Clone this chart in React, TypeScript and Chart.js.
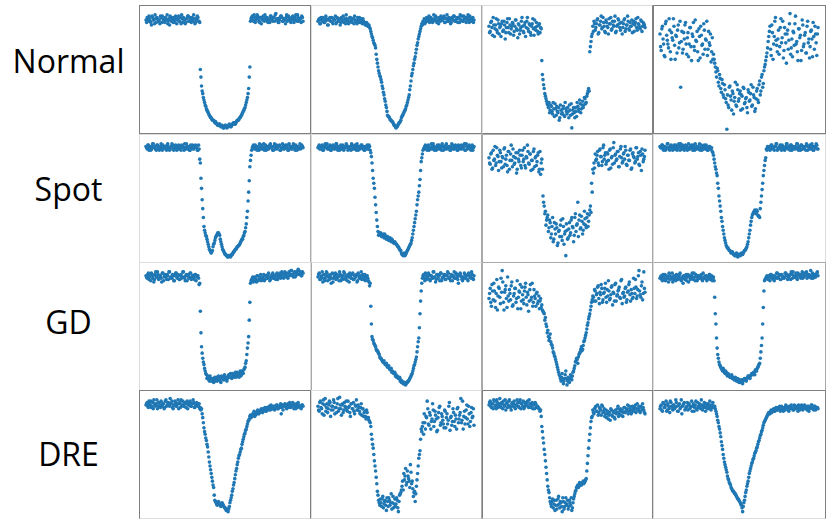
import React, { useEffect, useRef } from "react";
import { Chart, registerables } from "chart.js";

Chart.register(...registerables);

// Row labels (transit classes)
const rowLabels = ["Normal", "Spot", "GD", "DRE"];

// Relative flux (0 = panel bottom, 100 = panel top).
// Two interleaved visits per light curve: "...A" at samples 0,1,2..., "...Ab" at samples 0.5,1.5,...
const normalA = [89,91,88,90,87,92,89,86,90,91,88,89,92,87,90,88,91,89,86,90,92,88,89,91,87,90,89,92,88,86,90,91,89,87,90,92,88,89,91,88,90,87,89,91,88,
  50,37,31,26,22,19,17,15,13,12,10,10,8,8,7,6,7,5,6,4,5,6,4,5,7,5,6,7,8,7,9,10,11,12,14,16,18,20,24,28,35,52,
  90,92,88,91,89,93,90,87,91,89,92,88,90,91,87,89,92,90,88,91,93,89,90,87,91,92,88,90,89,91,88,92,90,87,91,89,90,93,88,91,89,90,92,88];
const normalAb = [87,90,92,88,85,91,89,93,87,90,88,86,91,92,89,87,90,93,88,85,90,91,87,89,92,86,90,88,91,93,87,89,86,90,92,88,91,87,89,93,86,90,92,88,87,
  44,33,28,24,21,18,16,14,12,11,10,9,9,7,6,7,6,5,5,4,6,5,5,6,6,5,7,8,7,8,10,10,12,13,15,17,19,22,26,31,44,
  88,91,89,93,87,90,92,88,91,86,90,89,93,91,88,90,87,92,89,91,88,94,90,87,89,92,91,88,90,86,93,89,91,88,90,92,87,91,89,93,88,90,87,91];
const normalB = [88,90,86,89,91,87,88,90,85,89,91,88,87,90,89,86,91,88,90,87,89,92,88,86,90,89,87,91,88,90,86,89,88,91,87,89,90,86,88,87,85,86,84,83,
  80,76,73,70,67,58,52,47,44,40,35,30,25,20,14,13,11,10,9,7,6,4,5,7,8,10,13,15,17,19,22,26,30,37,45,50,55,60,66,71,76,80,84,
  85,87,86,89,88,90,87,91,89,88,90,92,87,89,91,88,90,89,92,87,90,88,91,89,87,90,92,88,89,91,90,87,89,92,88,90,91,89,93,87,90,88,91,89];
const normalBb = [89,86,91,88,90,87,92,89,85,90,88,91,86,89,92,87,90,88,85,91,89,87,90,93,88,86,91,89,87,90,92,88,86,89,91,87,88,90,86,85,87,84,85,82,
  78,75,71,69,62,55,49,45,42,37,32,27,22,17,13,12,10,9,8,6,5,5,6,8,9,12,14,16,18,21,24,28,34,41,47,53,58,63,69,74,78,82,
  86,88,90,87,91,89,92,88,90,87,93,89,91,88,86,90,92,89,91,87,90,93,88,90,86,91,89,92,88,90,87,91,93,89,88,92,90,87,91,89,92,88,90,87];
const normalC = [84,80,88,77,85,82,90,79,86,83,76,88,81,85,79,87,83,90,78,84,86,80,89,82,75,85,81,88,84,79,87,83,91,80,85,77,86,82,89,81,84,78,86,83,
  57,42,35,29,25,22,24,18,21,15,19,23,14,17,20,12,18,16,21,13,19,15,17,22,14,4,18,16,20,13,21,17,23,19,25,22,27,24,31,35,64,72,
  78,80,86,83,89,78,85,88,82,91,84,79,87,83,90,86,81,88,84,92,80,85,89,83,87,78,86,90,82,85,88,81,84,89,86,80,87,83,91,85,82,88,84,86,83];
const normalCb = [79,87,83,91,76,85,81,89,78,84,86,80,88,74,83,90,79,85,82,87,77,84,89,81,86,78,83,91,80,85,76,88,82,86,79,84,90,77,83,87,80,85,79,82,
  46,38,31,27,23,20,16,22,17,24,13,19,21,16,10,22,15,19,14,24,17,20,12,18,23,15,20,12,17,24,19,26,16,22,20,28,23,29,33,33,68,
  76,84,88,81,86,90,79,85,92,83,87,80,89,84,78,86,91,82,85,88,79,84,90,86,81,87,83,89,80,85,92,82,87,84,79,88,85,90,81,86,83,89,80,87,85];
const normalD = [78,65,84,70,60,88,73,67,81,58,75,90,69,77,63,85,71,36,80,66,74,87,62,79,70,83,57,76,68,89,72,64,82,59,77,70,86,66,73,61,80,69,56,75,
  62,55,48,51,40,46,35,42,30,38,27,3,22,36,29,18,31,25,40,21,34,27,33,30,19,35,24,28,16,32,26,38,22,30,17,27,35,24,41,33,46,39,52,57,63,
  72,80,66,85,58,76,91,69,74,62,83,71,88,65,78,55,81,73,94,67,60,79,86,70,64,82,75,57,89,68,77,63,84,71,59,80,74,87,66,78,61,83];
const normalDb = [68,82,74,61,86,77,70,90,64,79,73,84,58,76,81,67,88,72,63,79,85,70,75,60,83,68,78,87,65,73,80,57,76,84,69,62,81,74,88,66,71,78,64,58,
  58,52,44,49,37,43,32,39,28,34,24,30,20,37,26,33,15,28,22,38,25,31,18,29,36,23,27,20,34,25,31,21,36,28,19,33,26,38,30,44,36,49,54,60,
  67,76,84,61,79,70,88,73,64,81,68,90,75,59,83,71,78,66,86,62,74,80,69,92,72,57,82,77,65,85,70,79,63,88,74,68,81,60,76,84,71,78];

const spotA = [91,89,92,90,88,91,93,90,89,92,90,88,91,89,92,90,91,88,93,90,89,91,92,88,90,91,89,92,90,88,91,90,93,89,91,90,88,92,90,89,91,92,90,88,89,
  78,58,42,28,23,20,16,12,9,7,9,14,17,20,22,23,21,16,12,9,7,6,5,4,5,4,6,7,8,10,11,12,13,15,17,18,21,24,30,40,55,75,
  84,90,92,89,91,88,90,93,89,91,90,88,92,90,89,91,93,90,88,91,89,92,90,91,88,90,93,89,91,90,92,88,90,91,89,93,90,92,88,91,90,89,92,90];
const spotAb = [90,92,88,91,89,93,90,91,88,92,89,90,93,88,91,90,89,92,90,88,91,93,89,90,92,88,91,89,90,92,91,88,90,93,89,91,88,90,92,89,91,90,88,92,81,
  66,49,35,25,21,18,14,10,8,8,12,15,19,21,23,22,18,14,10,8,6,5,4,5,5,5,6,8,9,10,12,13,14,16,18,20,23,27,35,48,64,
  80,88,91,90,92,89,91,88,90,92,89,93,90,88,91,89,92,90,91,88,93,90,89,91,92,88,90,91,89,92,90,88,93,91,89,90,92,88,91,90,89,93,90,91];
const spotB = [90,92,89,91,88,90,93,91,89,90,92,88,91,90,89,93,90,91,88,92,90,89,91,90,92,88,90,91,93,89,90,92,88,91,90,89,92,90,91,88,90,92,89,91,86,
  78,66,58,45,33,24,22,23,20,22,19,21,18,20,17,19,16,17,15,16,14,13,12,10,9,6,5,7,6,8,10,12,14,17,22,28,34,40,49,55,65,79,
  85,89,91,90,88,92,90,89,91,93,88,90,91,89,92,90,88,91,90,89,93,90,91,88,90,92,89,91,90,88,92,90,91,89,90,93,88,91,90,92,89,90,88,91];
const spotBb = [91,89,90,92,88,91,90,93,89,91,88,90,92,89,91,93,88,90,91,89,92,88,90,93,91,89,90,88,92,91,89,90,93,88,91,90,92,89,88,91,90,89,92,88,83,
  72,62,51,39,28,21,23,21,21,20,22,19,19,18,18,17,18,16,15,15,14,12,11,9,7,6,6,5,7,9,11,13,15,19,25,31,37,45,52,60,72,
  82,88,90,92,89,91,88,90,93,89,91,90,88,92,90,89,91,93,88,90,92,89,90,91,88,93,90,89,92,91,88,90,89,92,90,91,88,93,89,90,91,88,92,90];
const spotC = [82,77,86,74,80,91,78,84,72,88,79,83,75,90,81,76,87,73,85,80,89,77,82,70,86,79,84,74,88,81,76,83,92,78,85,72,80,87,75,83,79,86,73,69,81,
  52,44,40,33,37,27,31,22,35,18,26,30,13,24,20,33,17,28,22,5,25,19,31,23,35,27,21,38,29,47,33,26,36,22,30,34,27,38,32,41,39,55,
  70,74,80,84,78,88,83,76,90,81,86,79,85,73,89,82,77,94,84,80,87,75,83,91,78,85,81,88,76,84,80,89,74,86,82,79,90,83,77,87,72,85,81,88];
const spotCb = [78,85,73,88,81,76,90,83,79,86,74,82,89,77,84,71,87,80,92,75,83,78,86,73,81,88,76,84,79,90,74,82,87,77,85,80,73,89,82,76,84,71,87,78,73,
  47,38,29,35,24,33,19,28,16,31,22,27,15,25,29,20,34,14,24,30,18,26,21,33,28,16,35,24,30,20,37,27,32,25,40,29,35,28,37,44,62,
  73,78,85,81,87,76,89,83,79,92,84,77,86,80,88,74,83,90,78,85,81,87,75,89,82,79,86,91,77,84,80,88,73,85,83,78,90,81,86,76,84,89,79,83];
const spotD = [91,90,92,88,91,89,93,90,88,92,90,91,89,92,88,90,91,93,89,90,88,92,91,90,89,91,92,88,90,93,89,91,90,88,92,90,89,91,92,88,90,91,89,87,84,
  78,73,68,58,48,40,32,25,19,15,12,11,9,8,8,7,6,5,7,4,6,5,7,6,8,9,11,14,19,25,32,37,39,41,38,40,36,35,47,57,68,76,
  82,88,90,91,89,92,90,88,91,93,89,90,92,88,91,90,89,93,90,91,88,92,90,89,91,90,93,88,90,92,89,91,90,88,92,91,89,90,93,88,91,90,92,89];
const spotDb = [90,92,89,91,88,90,93,89,91,90,88,92,90,89,91,93,88,90,92,89,91,90,88,93,89,91,90,92,88,90,91,89,93,90,88,91,92,89,90,88,91,89,90,86,81,
  75,70,62,52,44,35,28,22,17,13,11,10,9,7,8,6,5,6,5,5,6,6,6,7,9,10,12,16,22,29,35,38,40,39,41,37,36,42,52,62,72,
  80,89,91,90,88,92,90,89,91,93,88,90,91,89,92,90,88,91,93,89,90,92,88,91,90,89,93,90,91,88,92,89,90,91,93,88,90,92,89,91,88,90,93,89];

const gdA = [90,88,92,89,86,91,90,87,93,89,91,88,90,85,92,89,91,87,90,93,88,89,91,86,90,92,88,90,87,91,89,93,88,90,86,91,89,92,88,90,87,91,89,90,83,
  62,34,25,20,15,12,10,8,11,7,9,6,10,8,7,11,9,6,10,8,12,9,7,11,10,13,9,12,10,14,11,13,10,15,12,14,16,18,23,33,42,69,
  86,88,85,89,87,90,86,88,91,87,89,86,90,88,91,89,87,90,92,88,89,91,87,90,92,89,91,88,93,90,89,92,90,94,91,89,93,90,92,95,91,93,90,92];
const gdAb = [89,91,87,90,92,88,85,91,89,93,87,90,88,92,86,90,89,91,87,93,89,88,90,86,92,89,91,87,90,88,93,89,86,91,90,88,92,87,90,89,91,86,90,88,84,
  45,29,22,17,13,9,11,7,9,8,7,9,7,10,9,8,7,11,9,10,8,10,9,12,11,10,13,11,12,10,14,12,13,11,15,13,17,21,28,37,55,
  84,87,89,86,88,85,90,87,89,86,88,91,87,90,88,92,86,89,91,88,90,87,92,89,90,88,93,91,89,92,90,88,93,91,94,90,92,89,93,91,94,92,90,93];
const gdB = [89,92,87,90,85,91,88,93,86,90,89,84,92,88,90,87,91,89,93,86,88,90,92,87,89,91,85,90,88,92,87,89,91,86,90,88,93,89,87,91,88,90,86,82,
  66,42,39,36,34,31,30,28,25,24,22,23,20,21,18,19,16,17,15,13,14,12,11,9,10,8,7,5,6,4,6,7,8,10,12,15,19,22,26,34,41,60,78,
  88,91,86,90,89,92,87,90,88,93,89,85,91,88,90,92,86,89,91,87,90,93,88,89,91,86,90,88,92,89,84,91,90,87,89,92,88,90,86,91,89,93,88,90];
const gdBb = [91,87,89,93,88,86,90,92,89,87,91,88,85,90,92,88,89,86,91,90,87,93,88,90,86,89,92,88,91,87,90,89,85,92,88,90,87,91,89,86,90,88,85,84,
  52,40,37,35,32,31,29,26,25,23,22,21,20,19,18,17,16,14,14,13,11,10,10,9,7,6,6,5,5,5,6,7,9,11,13,17,20,24,30,38,49,70,
  84,90,88,92,87,89,91,86,90,88,93,89,87,91,90,86,92,88,89,91,87,90,92,88,86,90,89,93,88,91,87,90,92,89,86,88,91,90,87,92,89,88,91,87];
const gdC = [72,80,66,78,84,70,76,63,81,73,88,94,69,77,82,65,74,79,71,85,67,76,80,72,64,78,83,70,75,68,81,73,77,62,79,71,84,69,74,66,77,70,64,72,67,62,
  60,57,50,47,39,44,36,33,29,26,22,18,14,11,7,13,5,9,15,4,10,6,12,8,14,17,22,25,21,28,30,34,32,38,41,45,51,56,60,66,71,
  73,79,70,76,82,68,75,80,71,77,84,69,74,78,72,81,67,76,83,70,75,79,73,86,68,77,74,81,71,78,85,70,76,73,80,87,72,79,94,75,82,71,93,77];
const gdCb = [76,69,83,71,78,65,87,74,80,68,77,85,63,79,72,89,70,76,82,66,74,80,69,86,73,77,64,81,71,78,84,67,75,70,83,73,66,79,72,76,68,74,70,65,63,61,
  55,52,45,42,41,38,35,30,27,24,20,16,12,9,10,8,7,12,9,7,8,9,10,11,15,19,23,24,26,29,32,31,35,39,43,48,53,58,63,69,
  74,70,78,75,81,72,77,83,69,76,80,73,79,86,71,75,82,77,70,84,74,78,81,72,87,76,73,80,69,77,83,75,79,72,88,76,81,74,90,78,73,85,76,80];
const gdD = [88,90,86,89,91,87,89,85,90,88,92,87,89,86,90,88,91,87,89,84,90,88,86,91,89,87,90,88,92,86,89,87,90,88,91,86,89,88,90,87,89,91,88,86,89,
  73,52,33,25,20,18,16,17,14,15,12,13,11,10,12,9,8,10,7,9,6,8,7,5,8,9,7,10,11,9,12,13,14,12,15,17,19,21,30,41,65,
  86,88,90,87,89,91,88,90,86,89,92,88,90,87,91,89,88,92,90,87,89,91,93,88,90,89,92,87,90,91,88,93,89,90,92,88,91,89,94,90,88,91,89,92,90];
const gdDb = [89,87,91,88,86,90,88,92,87,89,85,90,88,91,87,89,92,86,88,90,87,91,89,85,90,88,92,87,89,91,86,90,88,89,87,92,88,90,86,89,91,87,90,88,86,
  60,41,28,22,19,17,15,16,13,14,11,12,10,11,9,10,8,9,8,7,7,6,8,7,9,8,9,11,10,11,13,12,14,16,15,18,20,25,35,52,
  78,87,89,88,90,86,91,89,87,90,88,92,89,91,87,90,88,89,92,91,88,90,87,91,93,89,90,88,92,90,89,91,88,92,90,93,89,91,90,88,92,90,89,91,93];

const dreA = [89,91,87,90,92,88,86,90,89,93,88,91,87,89,90,86,92,88,91,89,94,90,87,89,92,88,90,86,91,93,89,88,90,87,92,89,91,88,90,93,87,89,91,88,90,87,86,
  79,71,66,61,56,48,41,35,29,24,14,12,10,13,11,9,12,10,8,7,6,5,9,14,18,23,28,34,39,44,49,52,55,60,64,67,70,74,77,
  80,79,81,82,80,83,82,84,83,85,84,86,85,84,87,86,88,85,87,86,88,87,89,86,88,87,82,89,88,90,87,89,88,91,87,89,90,88,86,89,91,88,87,89,88];
const dreAb = [90,88,92,89,87,91,93,88,90,86,91,89,92,88,90,87,93,89,91,88,90,92,86,89,91,88,93,90,87,89,92,88,91,90,86,89,92,88,90,91,87,89,90,88,86,85,82,
  75,68,63,58,52,44,38,32,26,18,13,11,12,12,10,11,11,9,8,6,7,7,12,16,21,26,31,37,42,47,50,54,58,62,66,69,72,76,
  78,81,80,82,84,81,83,85,82,84,86,83,85,87,84,86,85,87,89,86,88,85,87,89,86,88,90,87,85,89,88,86,90,87,89,88,91,86,88,90,87,89,88,86,89];
const dreB = [88,84,92,86,90,81,94,87,83,89,91,85,88,93,82,87,90,84,95,86,89,83,91,87,85,92,88,80,90,86,84,89,93,85,87,82,90,86,80,84,78,83,79,76,
  72,62,55,45,37,27,18,12,15,9,17,11,14,6,13,16,10,19,12,8,15,11,14,5,18,20,25,22,30,39,28,33,29,42,27,23,20,13,25,35,47,53,70,
  72,66,75,80,92,74,83,70,78,85,76,81,68,79,87,73,82,77,71,84,79,74,88,69,80,76,83,72,78,86,75,81,94,77,70,84,79,89,74,82,76,87,80,73];
const dreBb = [85,91,87,82,93,89,84,90,86,92,80,88,85,91,87,83,94,86,89,81,90,85,88,92,84,87,83,90,86,91,82,88,85,89,84,87,81,86,83,80,85,79,77,75,
  66,58,50,41,32,21,14,10,12,15,8,13,10,16,9,14,12,7,17,11,9,16,8,13,19,22,29,35,33,26,37,31,24,36,29,17,21,19,30,41,50,62,
  68,75,82,70,79,86,73,81,76,90,72,84,78,69,83,88,75,80,74,85,71,82,77,91,79,73,86,76,81,70,87,78,83,75,92,80,74,85,78,88,72,83,79,86];
const dreC = [89,92,87,90,93,88,86,91,89,94,87,90,92,88,85,91,89,93,87,90,88,92,86,89,91,87,93,90,88,86,91,89,92,87,90,88,91,89,86,90,88,87,86,85,
  72,63,54,45,35,25,20,13,9,15,11,6,14,10,17,8,12,5,13,9,16,11,7,14,10,6,12,17,21,24,26,25,27,26,28,27,29,31,43,55,66,76,
  80,83,86,88,84,81,87,85,89,83,86,82,79,84,81,77,85,80,83,78,82,86,80,84,81,85,83,87,84,86,82,88,85,83,87,84,89,86,85,88,83,87,90,85,82];
const dreCb = [91,88,90,86,92,89,93,87,90,88,91,86,89,93,90,87,92,88,85,91,90,87,89,93,88,91,86,90,92,87,89,91,88,93,87,90,86,89,91,87,88,86,84,80,
  68,59,50,40,30,22,16,11,13,8,14,10,7,15,11,13,9,16,7,12,10,14,9,12,16,8,15,19,22,25,24,28,26,27,29,28,30,37,49,61,71,
  79,85,82,87,84,89,83,86,81,88,84,80,85,82,78,83,86,81,84,79,85,83,88,82,86,84,80,87,83,85,89,84,86,82,88,85,87,83,90,86,84,88,85,87,83];
const dreD = [86,89,84,90,87,92,85,88,83,91,87,89,86,93,88,84,90,87,82,89,91,86,88,85,90,87,92,88,84,89,86,91,87,88,93,85,89,87,90,86,88,92,85,89,87,88,
  84,80,75,70,64,57,50,44,40,36,31,28,26,23,21,20,19,17,15,14,12,10,5,12,17,22,27,32,37,41,44,47,51,53,56,60,63,66,69,73,76,78,80,
  82,83,84,83,85,84,86,85,87,86,84,88,86,87,85,88,86,84,87,89,86,85,88,87,86,89,85,87,88,86,89,87,85,88,86,87,89,86,88,85,87,86];
const dreDb = [88,85,91,87,89,84,90,86,92,88,85,89,87,91,84,89,86,93,88,90,85,87,91,89,86,88,84,90,87,92,85,88,90,86,89,87,91,84,88,90,86,89,87,91,88,86,
  82,77,72,67,60,54,47,42,38,33,30,27,24,22,21,19,18,16,15,13,11,8,9,14,20,25,29,35,39,43,46,49,52,55,58,61,65,68,71,75,77,79,
  81,83,82,85,84,86,84,87,85,86,88,85,87,84,86,89,87,85,88,86,87,85,89,86,88,84,87,86,89,85,88,87,86,88,84,87,89,86,85,88,86,87];

const panelRows = [
  [[normalA, normalAb], [normalB, normalBb], [normalC, normalCb], [normalD, normalDb]],
  [[spotA, spotAb], [spotB, spotBb], [spotC, spotCb], [spotD, spotDb]],
  [[gdA, gdAb], [gdB, gdBb], [gdC, gdCb], [gdD, gdDb]],
  [[dreA, dreAb], [dreB, dreBb], [dreC, dreCb], [dreD, dreDb]],
];

const DARK = "#7f7f7f";
const MID = "#a9a9a9";
const LIGHT = "#dcdcdc";

// top right bottom left
const borders = [
  [[DARK, DARK, DARK, DARK], [LIGHT, MID, DARK, LIGHT], [LIGHT, DARK, DARK, LIGHT], [DARK, DARK, DARK, DARK]],
  [[LIGHT, MID, LIGHT, LIGHT], [LIGHT, MID, MID, LIGHT], [MID, MID, LIGHT, MID], [LIGHT, LIGHT, LIGHT, LIGHT]],
  [[LIGHT, LIGHT, LIGHT, LIGHT], [LIGHT, MID, LIGHT, MID], [MID, MID, LIGHT, MID], [MID, MID, LIGHT, LIGHT]],
  [[DARK, DARK, LIGHT, DARK], [LIGHT, MID, LIGHT, LIGHT], [DARK, DARK, LIGHT, DARK], [DARK, DARK, LIGHT, LIGHT]],
];

const colLeft = [139, 311, 482, 653];
const colWidth = [172, 171, 171, 173];
const rowTop = [5, 134, 262, 390];
const rowHeight = 129;
const labelBaseline = [73, 201, 334, 466];

function Panel(props: { series: number[][]; left: number; top: number; width: number; height: number; border: string[] }) {
  const { series, left, top, width, height, border } = props;
  const ref = useRef<HTMLCanvasElement>(null);
  useEffect(() => {
    const canvas = ref.current;
    if (!canvas) return;
    const n = series[0].length;
    const chart = new Chart(canvas, {
      type: "scatter",
      data: {
        datasets: series.map((vals, k) => ({
          data: vals.map((v, i) => ({ x: i + k * 0.5, y: v })),
          pointRadius: 1.8,
          pointHoverRadius: 1.8,
          pointBackgroundColor: "#1f77b4",
          pointBorderColor: "#1f77b4",
          pointBorderWidth: 0,
          clip: false as any,
        })),
      },
      options: {
        responsive: false,
        animation: false,
        devicePixelRatio: 1,
        events: [],
        layout: { autoPadding: false, padding: { left: 6, right: 7, top: 0, bottom: 0 } },
        scales: {
          x: { type: "linear", display: false, min: 0, max: n - 1 },
          y: { type: "linear", display: false, min: 0, max: 100 },
        },
        plugins: { legend: { display: false }, tooltip: { enabled: false } },
      },
    });
    return () => chart.destroy();
  }, [series, width, height]);
  return (
    <div
      style={{
        position: "absolute",
        left,
        top,
        width,
        height,
        boxSizing: "border-box",
        borderStyle: "solid",
        borderWidth: 1,
        borderColor: border.join(" "),
        background: "#fff",
      }}
    >
      <canvas ref={ref} width={width - 2} height={height - 2} style={{ display: "block" }} />
    </div>
  );
}

export default function App() {
  return (
    <div style={{ position: "absolute", left: 0, top: 0, width: 831, height: 528, background: "#fff", overflow: "hidden" }}>
      {rowLabels.map((label, r) => (
        <div
          key={label}
          style={{
            position: "absolute",
            left: 0,
            top: labelBaseline[r] - 28,
            width: 137,
            textAlign: "center",
            fontFamily: "'Open Sans', sans-serif",
            fontSize: 32,
            lineHeight: "32px",
            color: "#000",
          }}
        >
          {label}
        </div>
      ))}
      {panelRows.map((row, r) =>
        row.map((series, c) => (
          <Panel
            key={`${r}-${c}`}
            series={series}
            left={colLeft[c]}
            top={rowTop[r]}
            width={colWidth[c]}
            height={rowHeight}
            border={borders[r][c]}
          />
        ))
      )}
    </div>
  );
}
